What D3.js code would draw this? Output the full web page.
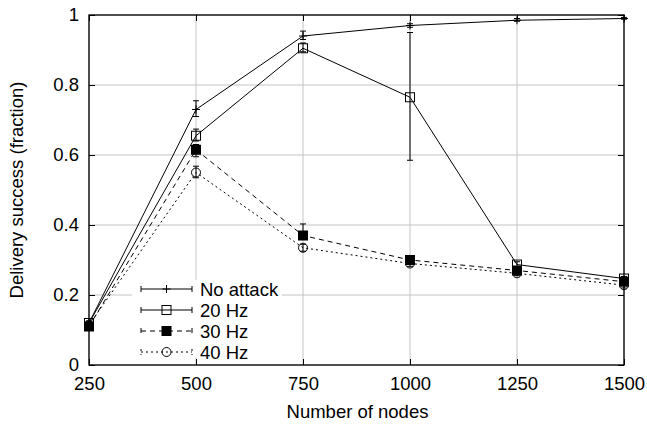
<!DOCTYPE html>
<html>
<head>
<meta charset="utf-8">
<script src="https://cdn.jsdelivr.net/npm/d3@7"></script>
<style>
  body { margin: 0; background: #fff; }
  text { font-family: "Liberation Sans", Arial, sans-serif; fill: #000; }
</style>
</head>
<body>
<svg width="647" height="426"></svg>
<script>
// data
let nodes = [250, 500, 750, 1000, 1250, 1500];
let seriesNames = ["No attack", "20 Hz", "30 Hz", "40 Hz"];

let noAttack   = [0.12, 0.73, 0.94, 0.97, 0.985, 0.99];
let noAttackLo = [0.115, 0.71, 0.93, 0.965, 0.982, 0.988];
let noAttackHi = [0.125, 0.755, 0.954, 0.975, 0.99, 0.993];

let hz20   = [0.12, 0.655, 0.905, 0.765, 0.287, 0.247];
let hz20Lo = [0.115, 0.64, 0.895, 0.585, 0.28, 0.24];
let hz20Hi = [0.125, 0.674, 0.92, 0.95, 0.295, 0.253];

let hz30   = [0.11, 0.615, 0.37, 0.30, 0.27, 0.238];
let hz30Lo = [0.105, 0.595, 0.36, 0.29, 0.262, 0.23];
let hz30Hi = [0.115, 0.63, 0.403, 0.31, 0.278, 0.245];

let hz40   = [0.115, 0.55, 0.335, 0.29, 0.262, 0.228];
let hz40Lo = [0.11, 0.535, 0.325, 0.282, 0.255, 0.22];
let hz40Hi = [0.12, 0.568, 0.345, 0.298, 0.27, 0.235];

let yTicks = [0, 0.2, 0.4, 0.6, 0.8, 1];

let svg = d3.select("svg");
let pLeft = 89, pRight = 624, pTop = 15, pBottom = 365;
let fontSize = "18.5px";

let x = d3.scaleLinear().domain([250, 1500]).range([pLeft, pRight]);
let y = d3.scaleLinear().domain([0, 1]).range([pBottom, pTop]);

// grid
let grid = svg.append("g").attr("class", "grid");
grid.selectAll("line.gx").data(nodes).enter().append("line")
    .attr("x1", d => x(d)).attr("x2", d => x(d))
    .attr("y1", pTop).attr("y2", pBottom)
    .attr("stroke", "#c4c4c4").attr("stroke-width", 1);
grid.selectAll("line.gy").data(yTicks).enter().append("line")
    .attr("x1", pLeft).attr("x2", pRight)
    .attr("y1", d => y(d)).attr("y2", d => y(d))
    .attr("stroke", "#c4c4c4").attr("stroke-width", 1);

// legend box hides the grid behind it
svg.append("rect")
    .attr("x", 132).attr("y", 280).attr("width", 150).attr("height", 78)
    .attr("fill", "#fff");

// axes, gnuplot style: ticks inward and mirrored
let tickLen = 6;
svg.append("g").attr("transform", `translate(0,${pBottom})`)
    .call(d3.axisBottom(x).tickValues(nodes).tickSize(-tickLen).tickPadding(12).tickFormat(d3.format("d")))
    .call(g => g.select(".domain").remove());
svg.append("g").attr("transform", `translate(0,${pTop})`)
    .call(d3.axisTop(x).tickValues(nodes).tickSize(-tickLen).tickFormat(""))
    .call(g => g.select(".domain").remove());
svg.append("g").attr("transform", `translate(${pLeft},0)`)
    .call(d3.axisLeft(y).tickValues(yTicks).tickSize(-tickLen).tickPadding(10).tickFormat(d3.format("")))
    .call(g => g.select(".domain").remove());
svg.append("g").attr("transform", `translate(${pRight},0)`)
    .call(d3.axisRight(y).tickValues(yTicks).tickSize(-tickLen).tickFormat(""))
    .call(g => g.select(".domain").remove());
svg.selectAll(".tick line").attr("stroke", "#000");
svg.selectAll(".tick text").style("font-size", fontSize).attr("fill", "#000")
    .style("font-family", "'Liberation Sans', Arial, sans-serif");

svg.append("rect")
    .attr("x", pLeft).attr("y", pTop).attr("width", pRight - pLeft).attr("height", pBottom - pTop)
    .attr("fill", "none").attr("stroke", "#000").attr("stroke-width", 1.3);

svg.append("text")
    .attr("x", (pLeft + pRight) / 2 + 1).attr("y", 418)
    .attr("text-anchor", "middle").style("font-size", fontSize)
    .text("Number of nodes");
svg.append("text")
    .attr("transform", `translate(23,${(pTop + pBottom) / 2}) rotate(-90)`)
    .attr("text-anchor", "middle").style("font-size", fontSize)
    .text("Delivery success (fraction)");

let series = [
    {name: seriesNames[0], vals: noAttack, lo: noAttackLo, hi: noAttackHi, dash: null, marker: "plus"},
    {name: seriesNames[1], vals: hz20, lo: hz20Lo, hi: hz20Hi, dash: null, marker: "square"},
    {name: seriesNames[2], vals: hz30, lo: hz30Lo, hi: hz30Hi, dash: "5,4", marker: "fsquare"},
    {name: seriesNames[3], vals: hz40, lo: hz40Lo, hi: hz40Hi, dash: "2,3", marker: "circle"}
];

function drawMarker(g, type, cx, cy) {
    if (type === "plus") {
        g.append("path").attr("d", `M${cx-4},${cy}H${cx+4}M${cx},${cy-4}V${cy+4}`)
            .attr("stroke", "#000").attr("stroke-width", 1);
    } else if (type === "square") {
        g.append("rect").attr("x", cx - 4.5).attr("y", cy - 4.5).attr("width", 9).attr("height", 9)
            .attr("fill", "none").attr("stroke", "#000").attr("stroke-width", 1);
    } else if (type === "fsquare") {
        g.append("rect").attr("x", cx - 5).attr("y", cy - 5).attr("width", 10).attr("height", 10)
            .attr("fill", "#000");
    } else {
        g.append("circle").attr("cx", cx).attr("cy", cy).attr("r", 4.5)
            .attr("fill", "none").attr("stroke", "#000").attr("stroke-width", 1);
    }
}

let line = d3.line().x(d => x(d[0])).y(d => y(d[1]));

series.forEach(s => {
    let g = svg.append("g");
    let pts = nodes.map((n, i) => [n, s.vals[i]]);
    g.append("path").datum(pts).attr("d", line)
        .attr("fill", "none").attr("stroke", "#000").attr("stroke-width", 1)
        .attr("stroke-dasharray", s.dash);
    // error bars
    nodes.forEach((n, i) => {
        let cx = x(n), y1 = y(s.lo[i]), y2 = y(s.hi[i]);
        g.append("path")
            .attr("d", `M${cx},${y1}V${y2}M${cx-3},${y1}H${cx+3}M${cx-3},${y2}H${cx+3}`)
            .attr("stroke", "#000").attr("stroke-width", 1).attr("fill", "none");
        drawMarker(g, s.marker, cx, y(s.vals[i]));
    });
});

// legend
let legend = svg.append("g");
series.forEach((s, i) => {
    let ly = 289 + i * 21;
    legend.append("path")
        .attr("d", `M141,${ly}H192M141,${ly-3}V${ly+3}M192,${ly-3}V${ly+3}`)
        .attr("stroke", "#000").attr("stroke-width", 1).attr("fill", "none")
        .attr("stroke-dasharray", s.dash);
    drawMarker(legend, s.marker, 166.5, ly);
    legend.append("text")
        .attr("x", 200).attr("y", ly + 6.5)
        .style("font-size", fontSize)
        .text(s.name);
});
</script>
</body>
</html>
